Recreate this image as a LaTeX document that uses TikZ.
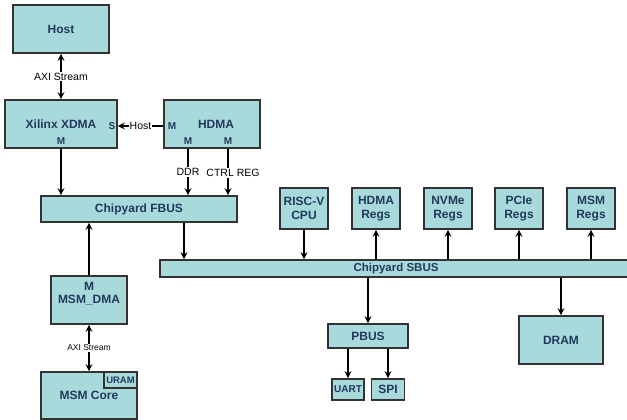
\documentclass[tikz,border=0pt]{standalone}
\usepackage{color}
\usepackage{fontspec}
\setmainfont{Liberation Sans}
\usetikzlibrary{arrows.meta}

\definecolor{boxfill}{RGB}{169,218,219}
\definecolor{boxline}{RGB}{51,51,51}
\definecolor{boxtext}{RGB}{33,57,92}

\tikzset{
  box/.style={draw=boxline, line width=1.8pt, fill=boxfill, text=boxtext, align=center,
    inner sep=0pt, font=\bfseries\fontsize{12}{14}\selectfont},
  port/.style={text=boxtext, inner sep=0pt, font=\bfseries\fontsize{10}{12}\selectfont},
  lbl/.style={fill=white, inner sep=1pt, font=\fontsize{10.5}{12}\selectfont},
  smalllbl/.style={fill=white, inner sep=1pt, font=\fontsize{8.5}{10}\selectfont},
  arr/.style={line width=1.6pt, draw=black, -{Stealth[length=7pt,width=7pt,inset=2.5pt]}},
  biarr/.style={line width=1.6pt, draw=black, {Stealth[length=7pt,width=7pt,inset=2.5pt]}-{Stealth[length=7pt,width=7pt,inset=2.5pt]}}
}

\begin{document}
\begin{tikzpicture}[x=1pt,y=-1pt]
   \useasboundingbox (0,0) rectangle (627,420);

   \node[box, minimum width=96pt, minimum height=48pt] (host) at (61,29) {Host};
   \node[box, minimum width=112pt, minimum height=48pt] (xdma) at (61,124) {Xilinx XDMA};
   \node[port] (xdmaS) at (112,126) {S};
   \node[port] (xdmaM) at (61,141) {M};
   \node[box, minimum width=96pt, minimum height=48pt] (hdma) at (212,124) {\hspace{8pt}HDMA};
   \node[port] (hdmaM) at (172,126) {M};
   \node[port] (hdmaDDR) at (188,141) {M};
   \node[port] (hdmaREG) at (228,141) {M};
   \node[box, minimum width=196pt, minimum height=26pt] (fbus) at (139,209) {Chipyard FBUS};

   \node[box, minimum width=76pt, minimum height=48pt] (msmdma) at (89,300) {MSM\_DMA};
   \node[port, font=\bfseries\fontsize{12}{14}\selectfont] (msmdmaM) at (89,286) {M};
   \node[box, minimum width=96pt, minimum height=47pt] (msmcore) at (89,395.5) {MSM Core};
   \node[box, minimum width=33pt, minimum height=16pt, font=\bfseries\fontsize{9.5}{11}\selectfont] (uram) at (120.5,380) {URAM};

   \node[box, minimum width=472pt, minimum height=17pt, font=\bfseries\fontsize{11.5}{13}\selectfont] (sbus) at (396,268.5) {Chipyard SBUS};
   \node[box, minimum width=48pt, minimum height=41pt] (cpu) at (304,208.5) {RISC-V\\CPU};
   \node[box, minimum width=48pt, minimum height=41pt] (hdmaregs) at (376,208.5) {HDMA\\Regs};
   \node[box, minimum width=48pt, minimum height=41pt] (nvmeregs) at (448,208.5) {NVMe\\Regs};
   \node[box, minimum width=48pt, minimum height=41pt] (pcieregs) at (519,208.5) {PCIe\\Regs};
   \node[box, minimum width=48pt, minimum height=41pt] (msmregs) at (591,208.5) {MSM\\Regs};

   \node[box, minimum width=80pt, minimum height=24pt] (pbus) at (368,336) {PBUS};
   \node[box, minimum width=32pt, minimum height=21pt, font=\bfseries\fontsize{10}{12}\selectfont] (uart) at (348,389.5) {UART};
   \node[box, minimum width=33pt, minimum height=21pt] (spi) at (388,389.5) {SPI};
   \node[box, minimum width=84pt, minimum height=48pt] (dram) at (561,340) {DRAM};

   \draw[biarr] (host) -- node[lbl] {AXI Stream} (xdma);
   \draw[arr] (hdma.west |- hdmaM) -- node[lbl] {Host} (xdma.east |- xdmaS);
   \draw[arr] (xdma.south) -- (xdma.south |- fbus.north);
   \draw[arr] (hdma.south -| hdmaDDR) -- node[lbl, pos=0.5] {DDR} (fbus.north -| hdmaDDR);
   \draw[arr] (hdma.south -| hdmaREG) -- (fbus.north -| hdmaREG);
   \node[lbl] at (233,173) {CTRL REG};
   \draw[arr] (msmdma.north) -- (msmdma.north |- fbus.south);
   \draw[biarr] (msmdma) -- node[smalllbl] {AXI Stream} (msmcore);

   \draw[arr] ([xshift=45pt]fbus.south) -- ([xshift=45pt]fbus.south |- sbus.north);
   \draw[arr] (cpu.south) -- (cpu.south |- sbus.north);
   \foreach \r in {hdmaregs,nvmeregs,pcieregs,msmregs}
      \draw[arr] (\r.south |- sbus.north) -- (\r.south);
   \draw[arr] (pbus.north |- sbus.south) -- (pbus.north);
   \draw[arr] (dram.north |- sbus.south) -- (dram.north);
   \draw[arr] (uart.north |- pbus.south) -- (uart.north);
   \draw[arr] (spi.north |- pbus.south) -- (spi.north);
\end{tikzpicture}
\end{document}
